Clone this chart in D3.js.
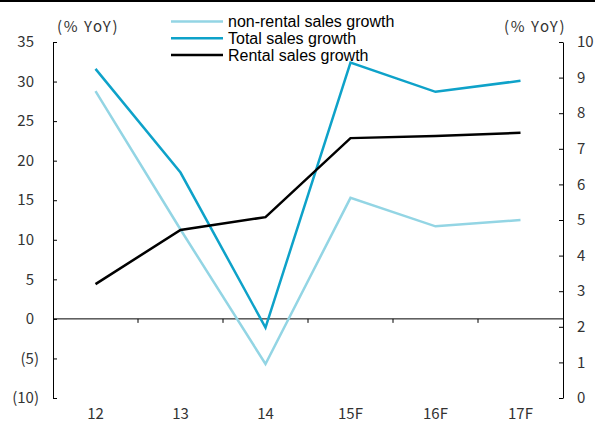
<!DOCTYPE html>
<html>
<head>
<meta charset="utf-8">
<script src="https://cdn.jsdelivr.net/npm/d3@7"></script>
<style>
  html, body { margin: 0; padding: 0; background: #fff; }
  svg { display: block; }
</style>
</head>
<body>
<svg id="chart" width="595" height="423"></svg>
<script>
// Categories (years, F = forecast)
const categories = ["12", "13", "14", "15F", "16F", "17F"];

// Left axis series (% YoY)
const nonRentalGrowth = [28.8, 11.3, -5.7, 15.3, 11.7, 12.5];
const totalGrowth = [31.6, 18.5, -1.1, 32.4, 28.7, 30.1];

// Right axis series (% YoY)
const rentalGrowth = [3.2, 4.72, 5.08, 7.3, 7.36, 7.45];

// Axis ticks
const leftTicks = [35, 30, 25, 20, 15, 10, 5, 0, -5, -10];
const rightTicks = [10, 9, 8, 7, 6, 5, 4, 3, 2, 1, 0];

const seriesNames = ["non-rental sales growth", "Total sales growth", "Rental sales growth"];
const seriesColors = ["#93d5e4", "#0ea2c9", "#000000"];

const svg = d3.select("#chart");
const axisFont = "'Noto Sans CJK KR', 'Noto Sans', sans-serif";
const axisSize = 15;
const textColor = "#333";

const plotLeft = 53, plotRight = 563, plotTop = 42, plotBottom = 398;

const x = d3.scaleBand().domain(categories).range([plotLeft, plotRight]).padding(0);
const yL = d3.scaleLinear().domain([-10, 35]).range([plotBottom, plotTop]);
const yR = d3.scaleLinear().domain([0, 10]).range([plotBottom, plotTop]);

// frame line along the top edge
svg.append("line").attr("x1", 0).attr("x2", 595).attr("y1", 1).attr("y2", 1)
  .attr("stroke", "#000").attr("stroke-width", 2);

// left axis
const fmt = v => v < 0 ? `(${Math.abs(v)})` : `${v}`;
const gL = svg.append("g").attr("transform", `translate(${plotLeft},0)`)
  .call(d3.axisLeft(yL).tickValues(leftTicks).tickSize(-4).tickSizeOuter(0).tickFormat(""));
gL.select(".domain").attr("stroke", "#000");
gL.selectAll(".tick line").attr("stroke", "#000");
svg.append("g").selectAll("text").data(leftTicks).join("text")
  .attr("x", d => d < 0 ? 39 : 34)
  .attr("y", d => yL(d))
  .attr("dy", "0.35em")
  .attr("text-anchor", "end")
  .attr("font-family", axisFont).attr("font-size", axisSize).attr("fill", textColor)
  .text(fmt);

// right axis
const gR = svg.append("g").attr("transform", `translate(${plotRight},0)`)
  .call(d3.axisRight(yR).tickValues(rightTicks).tickSize(-4).tickSizeOuter(0).tickFormat(""));
gR.select(".domain").attr("stroke", "#000");
gR.selectAll(".tick line").attr("stroke", "#000");
svg.append("g").selectAll("text").data(rightTicks).join("text")
  .attr("x", 577)
  .attr("y", d => yR(d))
  .attr("dy", "0.35em")
  .attr("text-anchor", "start")
  .attr("font-family", axisFont).attr("font-size", axisSize).attr("fill", textColor)
  .text(d => d);

// zero line with category separators
svg.append("line").attr("x1", plotLeft).attr("x2", plotRight)
  .attr("y1", yL(0)).attr("y2", yL(0)).attr("stroke", "#000").attr("stroke-width", 1);
svg.append("g").selectAll("line").data(categories.slice(1)).join("line")
  .attr("x1", d => x(d)).attr("x2", d => x(d))
  .attr("y1", yL(0)).attr("y2", yL(0) + 4)
  .attr("stroke", "#000");

// category labels
svg.append("g").selectAll("text").data(categories).join("text")
  .attr("x", d => x(d) + x.bandwidth() / 2)
  .attr("y", 414)
  .attr("dy", "0.35em")
  .attr("text-anchor", "middle")
  .attr("font-family", axisFont).attr("font-size", axisSize).attr("fill", textColor)
  .text(d => d);

// unit labels
svg.append("text").attr("x", 57).attr("y", 27).attr("dy", "0.35em")
  .attr("font-family", axisFont).attr("font-size", axisSize).attr("letter-spacing", 1.6)
  .attr("fill", textColor).text("(% YoY)");
svg.append("text").attr("x", 504).attr("y", 27).attr("dy", "0.35em")
  .attr("font-family", axisFont).attr("font-size", axisSize).attr("letter-spacing", 1.6)
  .attr("fill", textColor).text("(% YoY)");

// series lines
const cx = (d, i) => x(categories[i]) + x.bandwidth() / 2;
const lineL = d3.line().x(cx).y(d => yL(d));
const lineR = d3.line().x(cx).y(d => yR(d));

svg.append("path").datum(nonRentalGrowth).attr("d", lineL)
  .attr("fill", "none").attr("stroke", seriesColors[0]).attr("stroke-width", 2.5);
svg.append("path").datum(totalGrowth).attr("d", lineL)
  .attr("fill", "none").attr("stroke", seriesColors[1]).attr("stroke-width", 2.5);
svg.append("path").datum(rentalGrowth).attr("d", lineR)
  .attr("fill", "none").attr("stroke", seriesColors[2]).attr("stroke-width", 2.5);

// legend
const legend = svg.append("g");
seriesNames.forEach((name, i) => {
  const ly = 21.5 + i * 16.7;
  legend.append("line").attr("x1", 171).attr("x2", 223).attr("y1", ly).attr("y2", ly)
    .attr("stroke", seriesColors[i]).attr("stroke-width", 2.5);
  legend.append("text").attr("x", 228).attr("y", ly).attr("dy", "0.35em")
    .attr("font-family", "'Liberation Sans', Arial, sans-serif").attr("font-size", 16)
    .attr("fill", "#000").text(name);
});
</script>
</body>
</html>
